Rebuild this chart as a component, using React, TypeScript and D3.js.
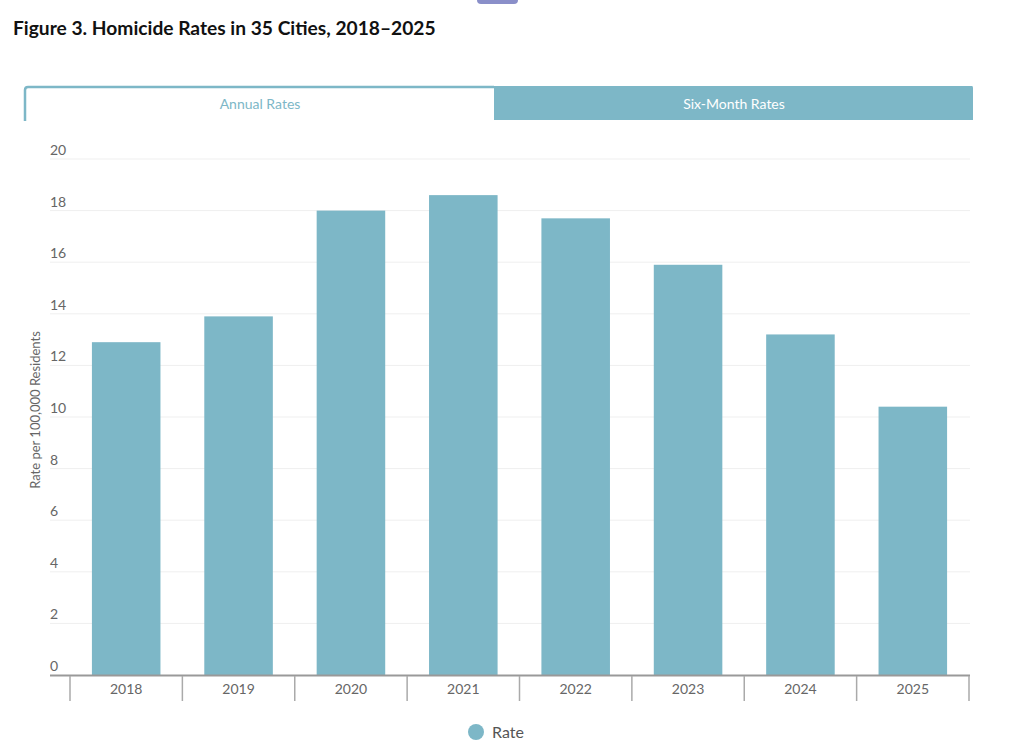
import React from "react";
import * as d3 from "d3";

const years = ["2018", "2019", "2020", "2021", "2022", "2023", "2024", "2025"];
const rates = [12.9, 13.9, 18.0, 18.6, 17.7, 15.9, 13.2, 10.4];
const yTicks = [0, 2, 4, 6, 8, 10, 12, 14, 16, 18, 20];
const tabs = ["Annual Rates", "Six-Month Rates"];
const seriesName = "Rate";
const title = "Figure 3. Homicide Rates in 35 Cities, 2018–2025";
const yTitle = "Rate per 100,000 Residents";

const TEAL = "#7db7c7";
const FONT = "Lato, 'Open Sans', sans-serif";

export default function App() {
  const W = 1024, H = 746;
  const plotLeft = 50, plotRight = 970;
  const y = d3.scaleLinear().domain([0, 20]).range([675, 159]);
  const x = d3.scaleBand<string>().domain(years).range([70, 969]).paddingInner(0.39).paddingOuter(0.195);
  const tickXs = years.map((yr) => (x(yr) as number) - (x.step() * x.paddingInner()) / 2);
  tickXs.push(969);
  return (
    <svg width={W} height={H} style={{ position: "absolute", left: 0, top: 0, background: "#fff" }} fontFamily={FONT}>
      <rect x={0} y={0} width={W} height={H} fill="#fff" />
      <rect x={477} y={-6} width={41} height={10} rx={4} fill="#8a8fc9" />
      <text x={13} y={35} fontSize={19.2} fontWeight={700} fill="#111">{title}</text>
      {/* tabs */}
      <path d="M494,86 L972,86 Q973,86 973,88 L973,120 L494,120 Z" fill={TEAL} />
      <path d="M25,121 L25,90 Q25,87 28,87 L494,87" fill="none" stroke={TEAL} strokeWidth={2.5} />
      <text x={260} y={109} fontSize={14} fill={TEAL} textAnchor="middle">{tabs[0]}</text>
      <text x={734} y={109} fontSize={14} fill="#fff" textAnchor="middle">{tabs[1]}</text>
      {/* grid */}
      {yTicks.map((t) => (
        <g key={t}>
          {t > 0 && <line x1={plotLeft} x2={plotRight} y1={y(t)} y2={y(t)} stroke="#efefef" strokeWidth={1} />}
          <text x={plotLeft} y={y(t) - 4} fontSize={14} fill="#666">{t}</text>
        </g>
      ))}
      {/* bars */}
      {years.map((yr, i) => (
        <rect key={yr} x={x(yr)} y={y(rates[i])} width={x.bandwidth()} height={y(0) - y(rates[i])} fill={TEAL} />
      ))}
      {/* x axis */}
      <line x1={plotLeft} x2={plotRight} y1={675.5} y2={675.5} stroke="#999" strokeWidth={2} />
      {tickXs.map((tx, i) => (
        <line key={i} x1={tx} x2={tx} y1={676} y2={701} stroke="#aaa" strokeWidth={1.5} />
      ))}
      {years.map((yr) => (
        <text key={yr} x={(x(yr) as number) + x.bandwidth() / 2} y={694} fontSize={14} fill="#666" textAnchor="middle">{yr}</text>
      ))}
      <text transform={`translate(40,410) rotate(-90)`} fontSize={13} fill="#666" textAnchor="middle">{yTitle}</text>
      {/* legend */}
      <circle cx={476} cy={732} r={8} fill={TEAL} />
      <text x={492} y={738} fontSize={16} fill="#555">{seriesName}</text>
    </svg>
  );
}
